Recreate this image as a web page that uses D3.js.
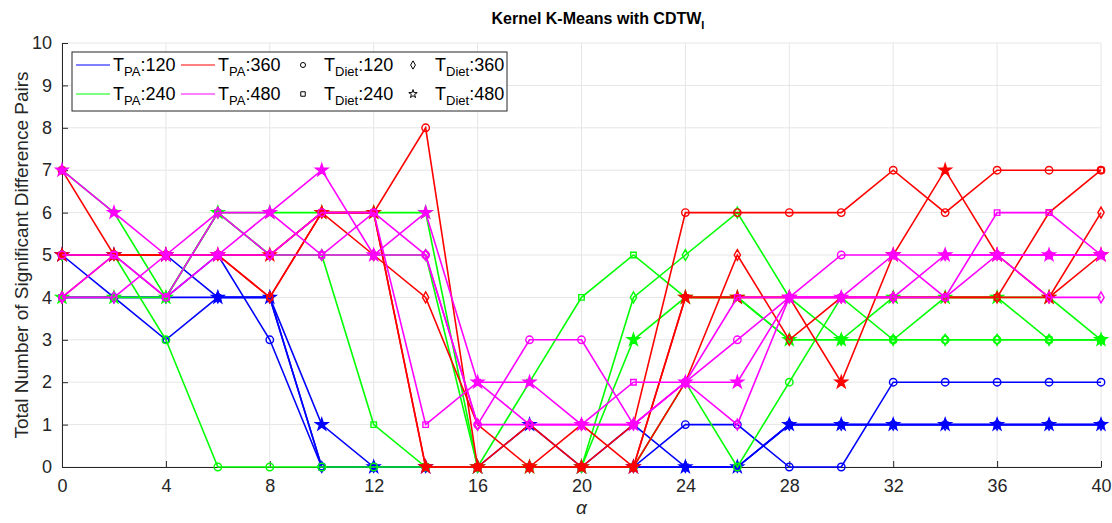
<!DOCTYPE html>
<html>
<head>
<meta charset="utf-8">
<script src="https://cdn.jsdelivr.net/npm/d3@7"></script>
<style>
  body { margin: 0; background: #fff; }
  svg { display: block; font-family: "Liberation Sans", Arial, sans-serif; }
</style>
</head>
<body>
<div id="chart"></div>
<script>
// alpha values on the x axis
const alphas = [0,2,4,6,8,10,12,14,16,18,20,22,24,26,28,30,32,34,36,38,40];
const xTicks = [0,4,8,12,16,20,24,28,32,36,40];
const yTicks = [0,1,2,3,4,5,6,7,8,9,10];

const paLevels = ["120", "240", "360", "480"];
const dietLevels = ["120", "240", "360", "480"];

// T_PA 120 (blue)
const pa120_diet120 = [5,4,4,5,3,0,0,0,0,0,0,0,1,1,0,0,2,2,2,2,2];
const pa120_diet240 = [4,4,3,4,4,0,0,0,0,0,0,1,0,0,1,1,1,1,1,1,1];
const pa120_diet360 = [4,4,4,4,4,0,0,0,0,0,0,0,0,0,1,1,1,1,1,1,1];
const pa120_diet480 = [5,5,5,4,4,1,0,0,0,1,0,0,0,0,1,1,1,1,1,1,1];
// T_PA 240 (green)
const pa240_diet120 = [5,5,3,0,0,0,0,0,0,0,0,0,2,0,2,4,3,3,3,3,3];
const pa240_diet240 = [7,6,4,6,5,5,1,0,0,2,4,5,4,4,3,3,3,4,4,3,3];
const pa240_diet360 = [5,5,4,6,5,5,5,5,0,0,0,4,5,6,4,3,3,3,3,3,3];
const pa240_diet480 = [4,4,4,6,6,6,6,6,0,0,0,3,4,4,3,3,4,4,4,4,3];
// T_PA 360 (red)
const pa360_diet120 = [7,5,5,5,5,6,6,8,0,1,0,1,6,6,6,6,7,6,7,7,7];
const pa360_diet240 = [5,5,5,5,4,6,6,0,0,0,0,0,4,4,4,4,4,4,4,6,7];
const pa360_diet360 = [4,5,5,5,4,6,5,4,1,0,1,0,2,5,3,4,4,4,4,4,6];
const pa360_diet480 = [5,5,5,5,5,6,6,0,0,0,0,0,4,4,4,2,5,7,5,4,5];
// T_PA 480 (magenta)
const pa480_diet120 = [5,5,4,5,5,6,6,5,1,3,3,1,2,3,4,5,5,4,5,5,5];
const pa480_diet240 = [4,5,4,6,6,5,6,1,2,1,1,2,2,4,4,4,4,4,6,6,5];
const pa480_diet360 = [4,4,5,6,5,5,5,5,1,1,1,1,2,1,4,4,4,5,5,4,4];
const pa480_diet480 = [7,6,5,5,6,7,5,6,2,2,1,1,2,2,4,4,5,5,5,5,5];

const valuesByPA = {
  "120": [pa120_diet120, pa120_diet240, pa120_diet360, pa120_diet480],
  "240": [pa240_diet120, pa240_diet240, pa240_diet360, pa240_diet480],
  "360": [pa360_diet120, pa360_diet240, pa360_diet360, pa360_diet480],
  "480": [pa480_diet120, pa480_diet240, pa480_diet360, pa480_diet480]
};

const paColor = { "120": "#0000ff", "240": "#00ff00", "360": "#ff0000", "480": "#ff00ff" };
const dietSymbol = {
  "120": d3.symbolCircle, "240": d3.symbolSquare,
  "360": d3.symbolDiamond, "480": d3.symbolStar
};
const dietSize = { "120": 44, "240": 30, "360": 34, "480": 46 };

const width = 1112, height = 523;
const margin = { left: 62, right: 11, top: 43, bottom: 56 };

const svg = d3.select("#chart").append("svg")
  .attr("width", width).attr("height", height);

const x = d3.scaleLinear().domain([0, 40]).range([margin.left, width - margin.right]);
const y = d3.scaleLinear().domain([0, 10]).range([height - margin.bottom, margin.top]);

// grid
svg.append("g").selectAll("line.gy").data(yTicks).enter().append("line")
  .attr("x1", x(0)).attr("x2", x(40))
  .attr("y1", d => y(d)).attr("y2", d => y(d))
  .attr("stroke", "#e6e6e6").attr("stroke-width", 1);
svg.append("g").selectAll("line.gx").data(xTicks).enter().append("line")
  .attr("x1", d => x(d)).attr("x2", d => x(d))
  .attr("y1", y(0)).attr("y2", y(10))
  .attr("stroke", "#e6e6e6").attr("stroke-width", 1);

// axes (inward ticks)
const xAxis = svg.append("g")
  .attr("transform", `translate(0,${y(0)})`)
  .call(d3.axisBottom(x).tickValues(xTicks).tickSizeInner(-6).tickSizeOuter(0).tickPadding(12));
const yAxis = svg.append("g")
  .attr("transform", `translate(${x(0)},0)`)
  .call(d3.axisLeft(y).tickValues(yTicks).tickSizeInner(-6).tickSizeOuter(0).tickPadding(10));
[xAxis, yAxis].forEach(g => {
  g.select(".domain").attr("stroke", "#262626");
  g.selectAll(".tick line").attr("stroke", "#262626");
  g.selectAll(".tick text").attr("fill", "#262626")
    .style("font-size", "18px").style("font-family", "'Liberation Sans', Arial, sans-serif");
});

// series
const line = d3.line().x((d, i) => x(alphas[i])).y(d => y(d));
paLevels.forEach(pa => {
  dietLevels.forEach((diet, k) => {
    const vals = valuesByPA[pa][k];
    const col = paColor[pa];
    svg.append("path").datum(vals)
      .attr("d", line)
      .attr("fill", "none")
      .attr("stroke", col)
      .attr("stroke-width", 1.6);
    const sym = d3.symbol().type(dietSymbol[diet]).size(dietSize[diet]);
    svg.append("g").selectAll("path").data(vals).enter().append("path")
      .attr("d", sym)
      .attr("transform", (d, i) => `translate(${x(alphas[i])},${y(d)})`)
      .attr("fill", diet === "480" ? col : "none")
      .attr("stroke", col)
      .attr("stroke-width", 1.4);
  });
});

// title
const title = svg.append("text")
  .attr("x", 598).attr("y", 24)
  .attr("text-anchor", "middle")
  .style("font-family", "'Liberation Sans Narrow', 'Liberation Sans', Arial, sans-serif")
  .style("font-weight", "bold").style("font-size", "16px").attr("fill", "#000");
title.append("tspan").text("Kernel K-Means with CDTW");
title.append("tspan").attr("dy", 5).style("font-size", "11px").text("I");

// axis labels
svg.append("text")
  .attr("x", x(20)).attr("y", 514)
  .attr("text-anchor", "middle")
  .style("font-size", "19px").style("font-style", "italic")
  .attr("fill", "#262626")
  .text("α");
svg.append("text")
  .attr("transform", `translate(28,${y(5)}) rotate(-90)`)
  .attr("text-anchor", "middle")
  .style("font-size", "19px")
  .attr("fill", "#262626")
  .text("Total Number of Significant Difference Pairs");

// legend
const legend = svg.append("g");
legend.append("rect")
  .attr("x", 72).attr("y", 52).attr("width", 435).attr("height", 59)
  .attr("fill", "#fff").attr("stroke", "#262626").attr("stroke-width", 1);

function subLabel(g, xPos, yPos, sub, value) {
  const t = g.append("text").attr("x", xPos).attr("y", yPos)
    .style("font-size", "18px").attr("fill", "#000");
  t.append("tspan").text("T");
  t.append("tspan").attr("dy", 5).style("font-size", "13px").text(sub);
  t.append("tspan").attr("dy", -5).text(":" + value);
}

const rowY = [65, 94];
// T_PA entries: column 1 = 120, 240 ; column 2 = 360, 480
const paCols = [[76, 113], [181, 218]];
paLevels.forEach((pa, i) => {
  const col = Math.floor(i / 2), row = i % 2;
  const [lx, tx] = paCols[col];
  legend.append("line")
    .attr("x1", lx).attr("x2", lx + 34)
    .attr("y1", rowY[row]).attr("y2", rowY[row])
    .attr("stroke", paColor[pa]).attr("stroke-width", 1);
  subLabel(legend, tx, rowY[row] + 6, "PA", pa);
});
const dietCols = [[303, 324], [413, 435]];
dietLevels.forEach((diet, i) => {
  const col = Math.floor(i / 2), row = i % 2;
  const [mx, tx] = dietCols[col];
  legend.append("path")
    .attr("d", d3.symbol().type(dietSymbol[diet]).size(diet === "480" ? 22 : 20)())
    .attr("transform", `translate(${mx},${rowY[row]})`)
    .attr("fill", "none").attr("stroke", "#000").attr("stroke-width", 1);
  subLabel(legend, tx, rowY[row] + 6, "Diet", diet);
});
</script>
</body>
</html>
